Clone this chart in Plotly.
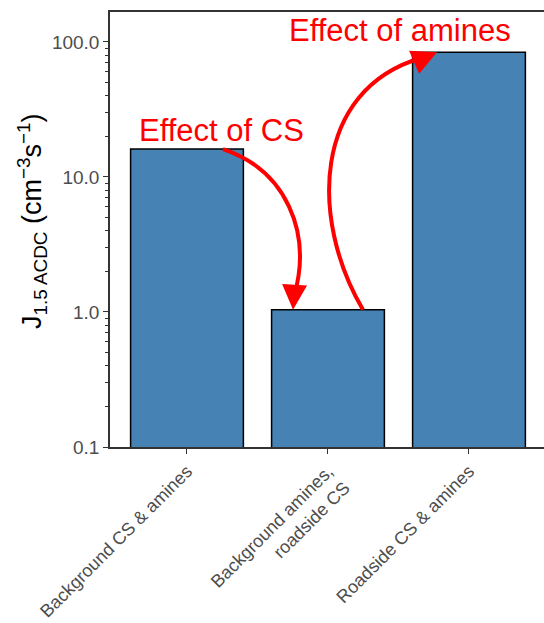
import numpy as np
import plotly.graph_objects as go

categories = ["Background CS & amines", "Background amines,<br>roadside CS", "Roadside CS & amines"]
values = [16.1, 1.04, 84.0]
ytick_vals = [0.1, 1, 10, 100]
ytick_text = ["0.1", "1.0", "10.0", "100.0"]
minor_vals = [m * d for d in (0.1, 1, 10) for m in range(2, 10)]
y_title = "J<sub>1.5 ACDC</sub> (cm<sup>\u22123</sup>s<sup>\u22121</sup>)"

XR = [-0.546, 2.532]
YR = [-1.0, 2.222]
L, T, W, H = 110, 12, 434, 435

def px(x):
    return (x - XR[0]) / (XR[1] - XR[0])

def py(v):
    return (np.log10(v) - YR[0]) / (YR[1] - YR[0])

idx = list(range(len(categories)))
fig = go.Figure()
fig.add_trace(go.Bar(x=idx, y=values, width=0.8,
                     marker=dict(color="#4682B4", line=dict(color="black", width=1.5)),
                     showlegend=False))

def P(xd, yv):
    return px(xd), py(yv)

def pix2y(pyx):
    return 10 ** (2 - (pyx - 42) / 135)

def pix2x(pxx):
    return (pxx - 187) / 141

# Arrow 1: from bar1 top to bar2 top (curved)
a0 = P(0.255, values[0])
a1 = P(0.70, pix2y(170))
a2 = P(0.89, pix2y(232))
a3 = P(0.76, pix2y(296))
path1 = f"M {a0[0]},{a0[1]} C {a1[0]},{a1[1]} {a2[0]},{a2[1]} {a3[0]},{a3[1]}"
# Arrow 2: from bar2 top to bar3 top
b0 = P(1.248, values[1])
b1 = P(pix2x(310), pix2y(220))
b2 = P(pix2x(312), pix2y(90))
b3 = P(pix2x(421), pix2y(58))
path2 = f"M {b0[0]},{b0[1]} C {b1[0]},{b1[1]} {b2[0]},{b2[1]} {b3[0]},{b3[1]}"
for p in (path1, path2):
    fig.add_shape(type="path", path=p, xref="paper", yref="paper",
                  line=dict(color="red", width=4))

tip1 = P(0.752, values[1])
tip2 = P(pix2x(437), values[2])
fig.add_annotation(x=tip1[0], y=tip1[1], xref="paper", yref="paper", text="",
                   showarrow=True, ax=1, ay=-16, arrowhead=2, arrowsize=1.25,
                   arrowwidth=4, arrowcolor="red", standoff=0)
fig.add_annotation(x=tip2[0], y=tip2[1], xref="paper", yref="paper", text="",
                   showarrow=True, ax=-16, ay=7, arrowhead=2, arrowsize=1.25,
                   arrowwidth=4, arrowcolor="red", standoff=0)

fig.add_annotation(x=px(pix2x(222)), y=py(pix2y(131)), xref="paper", yref="paper",
                   xanchor="center", yanchor="middle",
                   text="Effect of CS", showarrow=False,
                   font=dict(family="Liberation Sans, Arial", size=31, color="red"))
fig.add_annotation(x=px(pix2x(400)), y=py(pix2y(31)), xref="paper", yref="paper",
                   xanchor="center", yanchor="middle",
                   text="Effect of amines", showarrow=False,
                   font=dict(family="Liberation Sans, Arial", size=31, color="red"))

# y-axis title as rotated annotation
fig.add_annotation(x=(32 - L) / W, y=(T + H - 221) / H, xref="paper", yref="paper",
                   xanchor="center", yanchor="middle", textangle=-90,
                   text=y_title, showarrow=False,
                   font=dict(family="Liberation Sans, Arial", size=27, color="black"))

fig.update_layout(
    width=544, height=623,
    margin=dict(l=L, r=0, t=T, b=623 - T - H),
    plot_bgcolor="white", paper_bgcolor="white",
    font=dict(family="Liberation Sans, Arial", color="#4d4d4d"),
    xaxis=dict(range=XR, tickvals=idx, ticktext=categories, tickangle=-45,
               automargin=False,
               showline=True, linecolor="#333333", linewidth=1.5, mirror=True,
               ticks="outside", ticklen=5, tickcolor="#333333", showgrid=False,
               zeroline=False, tickfont=dict(size=18, color="#4d4d4d")),
    yaxis=dict(type="log", range=YR, tickvals=ytick_vals, ticktext=ytick_text,
               automargin=False,
               showline=True, linecolor="#333333", linewidth=1.5,
               ticks="outside", ticklen=5, tickcolor="#333333", showgrid=False,
               zeroline=False, tickfont=dict(size=19, color="#4d4d4d"),
               minor=dict(tickvals=minor_vals, ticks="outside", ticklen=3,
                          tickcolor="#333333", showgrid=False)),
)

fig.write_html("out.html")
